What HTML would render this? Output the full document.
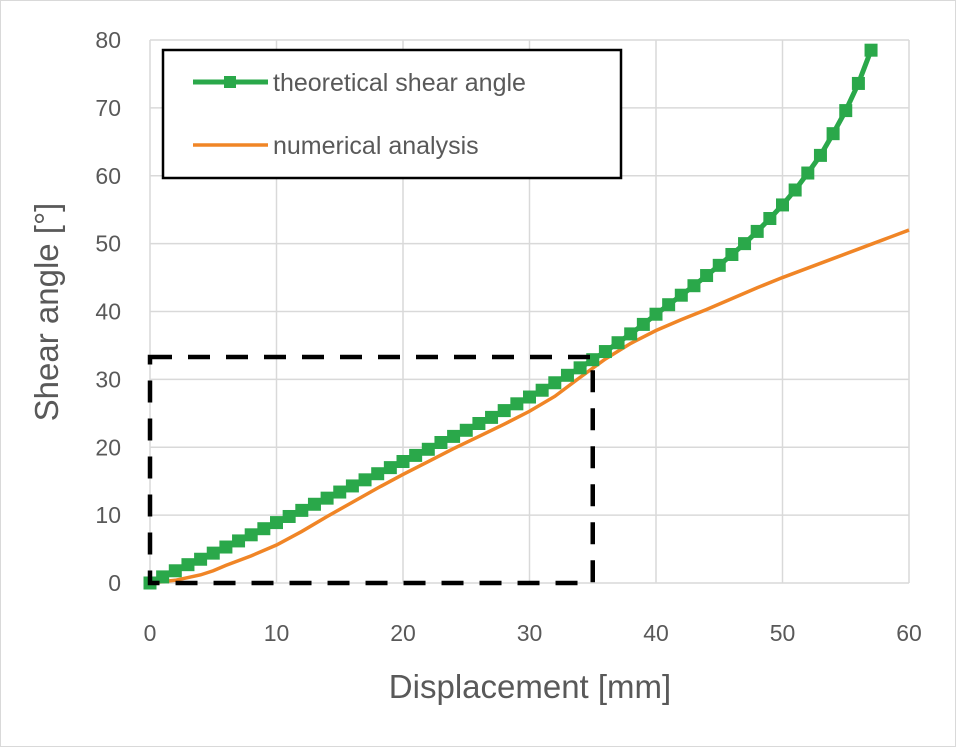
<!DOCTYPE html>
<html><head><meta charset="utf-8"><style>
html,body{margin:0;padding:0;background:#fff;}
svg{display:block;font-family:"Liberation Sans",sans-serif;}
</style></head><body>
<svg id="chart" width="956" height="747">
<rect x="0.5" y="0.5" width="955" height="746" fill="#fff" stroke="#d9d9d9"/>
<g id="grid"></g><g id="axes"></g><g id="series"></g>
<rect x="163" y="50" width="458" height="128" fill="#fff" stroke="#000" stroke-width="2.5"/>
<g>
<line x1="193" y1="82" x2="268" y2="82" stroke="#2aa84a" stroke-width="5"/>
<rect x="224" y="76" width="12" height="12" fill="#2aa84a"/>
<text x="273" y="91" font-size="25" fill="#595959">theoretical shear angle</text></g>
<g>
<line x1="193" y1="145" x2="268" y2="145" stroke="#f08526" stroke-width="3.5"/>
<text x="273" y="154" font-size="25" fill="#595959">numerical analysis</text></g>
<text x="530" y="698" font-size="33" fill="#595959" text-anchor="middle">Displacement [mm]</text>
<text transform="translate(58,312) rotate(-90)" font-size="33" fill="#595959" text-anchor="middle">Shear angle [°]</text>
</svg>
<script>
const xTicks=[0,10,20,30,40,50,60];
const yTicks=[0,10,20,30,40,50,60,70,80];
const theoX=[0,1,2,3,4,5,6,7,8,9,10,11,12,13,14,15,16,17,18,19,20,21,22,23,24,25,26,27,28,29,30,31,32,33,34,35,36,37,38,39,40,41,42,43,44,45,46,47,48,49,50,51,52,53,54,55,56,57];
const theoY=[0,0.9,1.8,2.7,3.5,4.4,5.3,6.2,7.1,8,8.9,9.8,10.7,11.6,12.5,13.4,14.3,15.2,16.1,17,17.9,18.8,19.7,20.7,21.6,22.5,23.5,24.4,25.4,26.4,27.4,28.4,29.5,30.6,31.7,32.9,34.1,35.4,36.7,38.1,39.6,41,42.4,43.8,45.3,46.8,48.4,50,51.8,53.7,55.7,57.9,60.4,63,66.2,69.6,73.6,78.5];
const numX=[0,2,4,5,6,8,10,12,14,16,18,20,22,24,26,28,30,32,34,36,38,40,42,44,46,48,50,52,54,56,58,60];
const numY=[0,0.4,1.2,1.8,2.6,4,5.6,7.6,9.8,11.9,14,16,17.9,19.8,21.6,23.4,25.3,27.5,30.3,33,35.3,37.2,38.8,40.3,41.9,43.5,45,46.4,47.8,49.2,50.6,52];
const boxX=[0,35];const boxY=[0,33.3];
const X=v=>150+v*(909-150)/60, Y=v=>583-v*(583-40)/80;
const NS="http://www.w3.org/2000/svg";
function mk(t,a,p){const e=document.createElementNS(NS,t);for(const k in a)e.setAttribute(k,a[k]);p.appendChild(e);return e;}
const g=document.getElementById('grid'),ax=document.getElementById('axes'),s=document.getElementById('series');
xTicks.forEach(v=>{const l=mk('line',{x1:X(v),x2:X(v),y1:Y(80),y2:Y(0),stroke:'#d9d9d9','stroke-width':1.5},g);


const t=mk('text',{x:X(v),y:641,'font-size':23,fill:'#595959','text-anchor':'middle'},ax);t.textContent=v;

});
yTicks.forEach(v=>{const l=mk('line',{x1:X(0),x2:X(60),y1:Y(v),y2:Y(v),stroke:'#d9d9d9','stroke-width':1.5},g);


const t=mk('text',{x:121,y:Y(v)+8,'font-size':23,fill:'#595959','text-anchor':'end'},ax);t.textContent=v;

});
const np=mk('polyline',{points:numX.map((x,i)=>X(x)+','+Y(numY[i])).join(' '),fill:'none',stroke:'#f08526','stroke-width':3.5},s);


const tp=mk('polyline',{points:theoX.map((x,i)=>X(x)+','+Y(theoY[i])).join(' '),fill:'none',stroke:'#2aa84a','stroke-width':5},s);


theoX.forEach((x,i)=>{const r=mk('rect',{x:X(x)-6.5,y:Y(theoY[i])-6.5,width:13,height:13,fill:'#2aa84a'},s);

});
const b=mk('rect',{x:X(boxX[0]),y:Y(boxY[1]),width:X(boxX[1])-X(boxX[0]),height:Y(boxY[0])-Y(boxY[1]),fill:'none',stroke:'#000','stroke-width':4.5,'stroke-dasharray':'22 16'},s);


</script>
</body></html>
